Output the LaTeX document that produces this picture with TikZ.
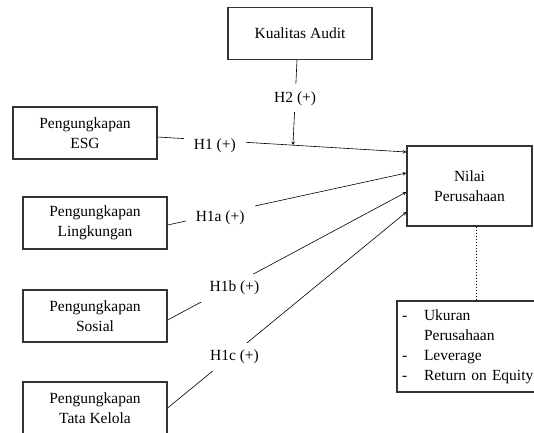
\documentclass[tikz,border=0pt]{standalone}
\usepackage{fontspec}
\setmainfont{Liberation Serif}

\begin{document}
\begin{tikzpicture}[x=1pt,y=-1pt,->,>=stealth,semithick,every node/.style={font=\fontsize{15.5}{20}\selectfont},box/.style={draw=black!80, line width=1.2pt, minimum width=144pt, minimum height=52pt, align=center, inner sep=0pt},hyp/.style={fill=white, inner xsep=10pt, inner ysep=7pt}]
\useasboundingbox (0,0) rectangle (534,432);
\node[box] (ka) at (300,33.5) {Kualitas Audit};
\node[box] (esg) at (85,133) {Pengungkapan\\ESG};
\node[box] (ling) at (95,223) {Pengungkapan\\Lingkungan};
\node[box] (sos) at (95,316) {Pengungkapan\\Sosial};
\node[box] (tk) at (95,408) {Pengungkapan\\Tata Kelola};
\node[box, minimum width=125pt, minimum height=80pt] (nilai) at (469.5,186) {Nilai\\Perusahaan};
\node[box, minimum width=142pt, minimum height=91pt, align=left, text width=134pt, inner xsep=5pt] (ctrl) at (469,346.5) {\makebox[22pt][l]{-}Ukuran\\\hspace*{22pt}Perusahaan\\\makebox[22pt][l]{-}Leverage\\\makebox[22pt][l]{-}\mbox{Return on Equity}};
\draw ([yshift=-4pt]esg.east) -- coordinate[pos=0.544] (h2tip) node[hyp, pos=0.23, yshift=-5pt] {H1 (+)} ([yshift=34pt]nilai.west);
\draw ([yshift=-2pt]ling.east) -- node[hyp, pos=0.22, yshift=-4pt] {H1a (+)} ([yshift=13pt]nilai.west);
\draw ([yshift=-4pt]sos.east) -- node[hyp, pos=0.28, yshift=-4pt] {H1b (+)} ([yshift=-6pt]nilai.west);
\draw (tk.east) -- node[hyp, pos=0.28, yshift=-4pt] {H1c (+)} ([yshift=-26pt]nilai.west);
\draw ([xshift=-3pt]ka.south) -- node[hyp, pos=0.45] {H2 (+)} (h2tip);
\draw[-, thin, dash pattern=on 1.5pt off 1.5pt] ([xshift=6.5pt]nilai.south) -- ([xshift=6.5pt]nilai.south |- ctrl.north);
\end{tikzpicture}
\end{document}
